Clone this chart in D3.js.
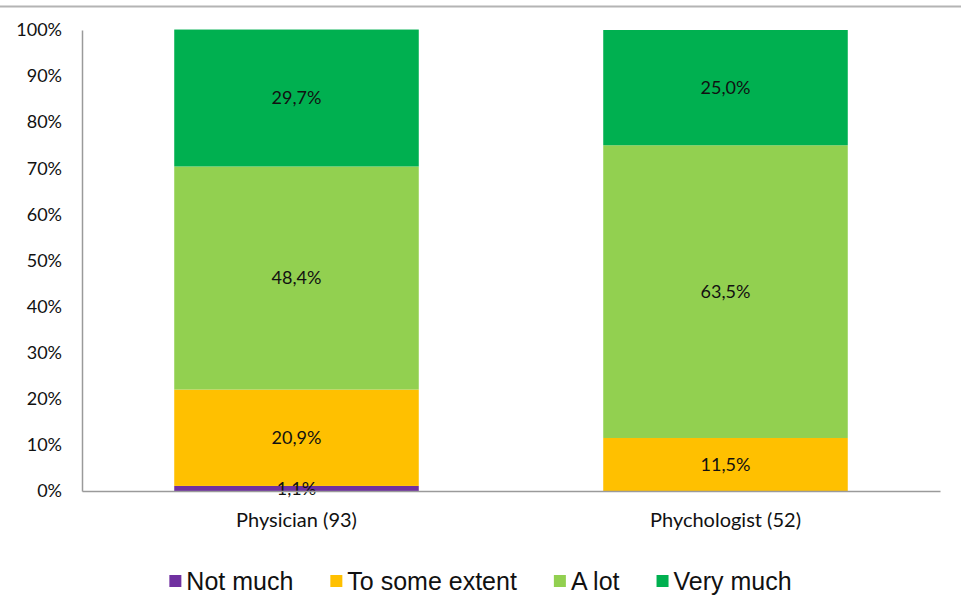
<!DOCTYPE html>
<html><head><meta charset="utf-8">
<script src="https://cdn.jsdelivr.net/npm/d3@7"></script>
<style>body{margin:0;background:#fff}svg{display:block}</style>
</head><body>
<script>
const categories = ["Physician (93)", "Phychologist (52)"];
const seriesNames = ["Not much", "To some extent", "A lot", "Very much"];
const notMuch = [1.1, 0];
const toSomeExtent = [20.9, 11.5];
const aLot = [48.4, 63.5];
const veryMuch = [29.7, 25.0];
const colors = ["#7030A0", "#FFC000", "#92D050", "#00B050"];
const yTicks = [0,10,20,30,40,50,60,70,80,90,100];

(function(){
const W = 961, H = 613;
const svg = d3.select("body").append("svg").attr("width", W).attr("height", H);

svg.append("line").attr("x1",0).attr("x2",W).attr("y1",6.5).attr("y2",6.5)
  .attr("stroke","#b4b4b4").attr("stroke-width",2);

const mLeft = 82, mRight = 940, mTop = 30, mBottom = 491;
const x = d3.scaleBand().domain(categories).range([mLeft, mRight]).paddingInner(0.43).paddingOuter(0.215);
const y = d3.scaleLinear().domain([0,100]).range([mBottom, mTop]);

const seriesVals = [notMuch, toSomeExtent, aLot, veryMuch];
const rows = categories.map((c,i)=>{const r={cat:c}; seriesNames.forEach((s,j)=>r[s]=seriesVals[j][i]); return r;});
const stacked = d3.stack().keys(seriesNames)(rows);

const font = "Lato, 'Open Sans', sans-serif";

stacked.forEach((layer,j)=>{
  const g = svg.append("g");
  layer.forEach(d=>{
    const v = d[1]-d[0];
    if (v <= 0) return;
    g.append("rect").attr("x", x(d.data.cat)).attr("width", x.bandwidth())
      .attr("y", y(d[1])).attr("height", y(d[0]) - y(d[1])).attr("fill", colors[j]);
  });
});
stacked.forEach((layer,j)=>{
  layer.forEach(d=>{
    const v = d[1]-d[0];
    if (v <= 0) return;
    svg.append("text").attr("x", x(d.data.cat)+x.bandwidth()/2).attr("y", y((d[0]+d[1])/2))
      .attr("dy","0.35em").attr("text-anchor","middle")
      .attr("font-family", font).attr("font-size", 18).attr("fill","#111")
      .text(d3.format(".1f")(v).replace(".", ",") + "%");
  });
});

const yAxis = svg.append("g").attr("transform",`translate(${mLeft},0)`)
  .call(d3.axisLeft(y).tickValues(yTicks).tickSize(0).tickPadding(20).tickFormat(d=>d+"%"));
yAxis.select(".domain").attr("stroke","#9a9a9a").attr("stroke-width",1.5);
yAxis.selectAll("text").attr("font-family", font).attr("font-size",18).attr("fill","#111");

const xAxis = svg.append("g").attr("transform",`translate(0,${mBottom})`)
  .call(d3.axisBottom(x).tickSize(0).tickPadding(22));
xAxis.select(".domain").attr("stroke","#9a9a9a").attr("stroke-width",1.5);
xAxis.selectAll("text").attr("font-family", font).attr("font-size",20).attr("fill","#111");

const lg = svg.append("g");
let cx = 0;
seriesNames.forEach((s,j)=>{
  const it = lg.append("g").attr("transform",`translate(${cx},0)`);
  it.append("rect").attr("x",0).attr("y",-15).attr("width",12).attr("height",12).attr("fill",colors[j]);
  const t = it.append("text").attr("x",17).attr("y",0).attr("font-family","'Liberation Sans', Arial, sans-serif")
    .attr("font-size",25).attr("fill","#111").text(s);
  const w = t.node().getComputedTextLength();
  cx += 17 + w + 37;
});
const totalW = cx - 37;
lg.attr("transform",`translate(${(W - totalW)/2},590)`);
})();
</script>
</body></html>
